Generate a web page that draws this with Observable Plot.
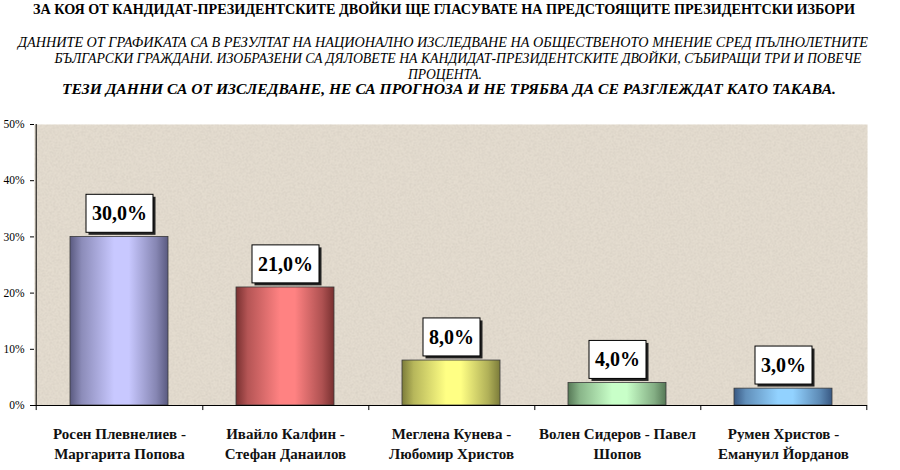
<!DOCTYPE html>
<html>
<head>
<meta charset="utf-8">
<script src="https://cdn.jsdelivr.net/npm/d3@7"></script>
<script src="https://cdn.jsdelivr.net/npm/@observablehq/plot@0.6"></script>
<style>
  html, body { margin: 0; padding: 0; background: #fff; }
  #wrap { width: 900px; height: 470px; position: relative; overflow: hidden; }
  #header text { font-family: 'Liberation Serif', 'DejaVu Serif', serif; }
</style>
</head>
<body>
<div id="wrap">
<svg id="header" width="900" height="110" xmlns="http://www.w3.org/2000/svg" style="display:block">
  <text x="444" y="14" text-anchor="middle" font-family="Liberation Serif" font-weight="bold" font-size="14" textLength="822" lengthAdjust="spacingAndGlyphs">ЗА КОЯ ОТ КАНДИДАТ-ПРЕЗИДЕНТСКИТЕ ДВОЙКИ ЩЕ ГЛАСУВАТЕ НА ПРЕДСТОЯЩИТЕ ПРЕЗИДЕНТСКИ ИЗБОРИ</text>
  <text x="443" y="47" text-anchor="middle" font-family="Liberation Serif" font-style="italic" font-size="14" textLength="850" lengthAdjust="spacingAndGlyphs">ДАННИТЕ ОТ ГРАФИКАТА СА В РЕЗУЛТАТ НА НАЦИОНАЛНО ИЗСЛЕДВАНЕ НА ОБЩЕСТВЕНОТО МНЕНИЕ СРЕД ПЪЛНОЛЕТНИТЕ</text>
  <text x="458" y="63" text-anchor="middle" font-family="Liberation Serif" font-style="italic" font-size="14" textLength="807" lengthAdjust="spacingAndGlyphs">БЪЛГАРСКИ ГРАЖДАНИ. ИЗОБРАЗЕНИ СА ДЯЛОВЕТЕ НА КАНДИДАТ-ПРЕЗИДЕНТСКИТЕ ДВОЙКИ, СЪБИРАЩИ ТРИ И ПОВЕЧЕ</text>
  <text x="445" y="79" text-anchor="middle" font-family="Liberation Serif" font-style="italic" font-size="14" textLength="74" lengthAdjust="spacingAndGlyphs">ПРОЦЕНТА.</text>
  <text x="449" y="94" text-anchor="middle" font-family="Liberation Serif" font-style="italic" font-weight="bold" font-size="14" textLength="774" lengthAdjust="spacingAndGlyphs">ТЕЗИ ДАННИ СА ОТ ИЗСЛЕДВАНЕ, НЕ СА ПРОГНОЗА И НЕ ТРЯБВА ДА СЕ РАЗГЛЕЖДАТ КАТО ТАКАВА.</text>
</svg>
<div id="chart"></div>
</div>
<script>
const categories = [
  "Росен Плевнелиев -\nМаргарита Попова",
  "Ивайло Калфин -\nСтефан Данаилов",
  "Меглена Кунева -\nЛюбомир Христов",
  "Волен Сидеров - Павел\nШопов",
  "Румен Христов -\nЕмануил Йорданов"
];
const values = [30, 21, 8, 4, 3];
const yTicks = [0, 10, 20, 30, 40, 50];
const gradients = [
  ["#5a5a80", "#c8c8ff"],
  ["#783030", "#ff8282"],
  ["#7c7c3a", "#ffff84"],
  ["#567856", "#c8ffc8"],
  ["#385882", "#92d2ff"]
];

const data = categories.map((c, i) => ({cat: c, value: values[i]}));
const W = 900, H = 360, ML = 34, MR = 33, MT = 14, MB = 65;
const step = (W - ML - MR) / categories.length;
const serif = "Liberation Serif";

const chart = Plot.plot({
  width: W, height: H,
  marginLeft: ML, marginRight: MR, marginTop: MT, marginBottom: MB,
  style: {fontFamily: serif, background: "transparent", overflow: "visible"},
  x: {domain: categories, paddingInner: 0.41, paddingOuter: 0.205, axis: null},
  y: {domain: [0, 50], axis: null},
  color: {domain: categories, range: categories.map((c, i) => `url(#grad${i})`)},
  marks: [
    Plot.frame({fill: "#e5ddd0", stroke: "none"}),
    Plot.frame({fill: "url(#noise)", stroke: "none"}),
    Plot.barY(data, {x: "cat", y: "value", fill: "cat", stroke: "#3a3a3a", strokeWidth: 0.8}),
    Plot.ruleY([0], {stroke: "#000", strokeWidth: 1}),
    Plot.ruleX([categories[0]], {x: d => d, dx: -step / 2, y1: -0.9, y2: 50, stroke: "#000"}),
    Plot.ruleX(categories, {x: d => d, dx: step / 2, y1: -0.9, y2: 0, stroke: "#000"}),
    Plot.axisY({ticks: yTicks, tickFormat: d => d + "%", tickSize: 4, tickPadding: 6, fontSize: 11.5, anchor: "left", label: null, fontFamily: serif, fill: "#000"}),
    Plot.text(data, {x: "cat", y: 0, text: "cat", dy: 19, lineAnchor: "top", lineHeight: 1.333, fontSize: 15, fontWeight: "bold", fill: "#111", fontFamily: serif}),
    Plot.text(data, {x: "cat", y: "value", text: d => d.value.toFixed(1).replace(".", ",") + "%", dy: -23, lineAnchor: "middle", fontSize: 20, fontWeight: "bold", fill: "#000", fontFamily: serif})
  ]
});
document.getElementById("chart").appendChild(chart);

const svg = d3.select(chart);
const defs = svg.insert("defs", ":first-child");
gradients.forEach(([edge, mid], i) => {
  const g = defs.append("linearGradient").attr("id", `grad${i}`).attr("x1", 0).attr("x2", 1).attr("y1", 0).attr("y2", 0);
  [[0, edge], [0.12, d3.interpolateRgb(edge, mid)(0.45)], [0.45, mid], [0.6, mid], [0.88, d3.interpolateRgb(edge, mid)(0.4)], [1, edge]]
    .forEach(([o, c]) => g.append("stop").attr("offset", o).attr("stop-color", c));
});
// paper texture: sparse darker specks
const pat = defs.append("pattern").attr("id", "noise").attr("patternUnits", "userSpaceOnUse").attr("width", 256).attr("height", 256);
const filt = defs.append("filter").attr("id", "grain").attr("x", 0).attr("y", 0).attr("width", "100%").attr("height", "100%");
filt.append("feTurbulence").attr("type", "fractalNoise").attr("baseFrequency", 0.75).attr("numOctaves", 2).attr("seed", 7);
filt.append("feColorMatrix").attr("type", "matrix").attr("values", "0 0 0 0 0.62  0 0 0 0 0.57  0 0 0 0 0.5  0 0 0 -4 2.3");
pat.append("rect").attr("width", 256).attr("height", 256).attr("filter", "url(#grain)").attr("opacity", 0.55);

const textGroups = chart.querySelectorAll('g[aria-label="text"]');
const valueGroup = textGroups[textGroups.length - 1];
valueGroup.querySelectorAll("text").forEach(t => {
  const b = t.getBBox();
  const w = b.width + 12, h = 38;
  const cx = b.x + b.width / 2, cy = b.y + b.height / 2;
  const parent = t.parentNode;
  const mk = () => document.createElementNS("http://www.w3.org/2000/svg", "rect");
  const shadow = mk(), box = mk();
  for (const [r, off] of [[shadow, 2.5], [box, 0]]) {
    r.setAttribute("x", cx - w / 2 + off); r.setAttribute("y", cy - h / 2 + off);
    r.setAttribute("width", w); r.setAttribute("height", h);
    const tr = t.getAttribute("transform");
    if (tr) r.setAttribute("transform", tr);
  }
  shadow.setAttribute("fill", "#222");
  box.setAttribute("fill", "#fff"); box.setAttribute("stroke", "#000"); box.setAttribute("stroke-width", 1);
  parent.insertBefore(shadow, t);
  parent.insertBefore(box, t);
});
</script>
</body>
</html>
